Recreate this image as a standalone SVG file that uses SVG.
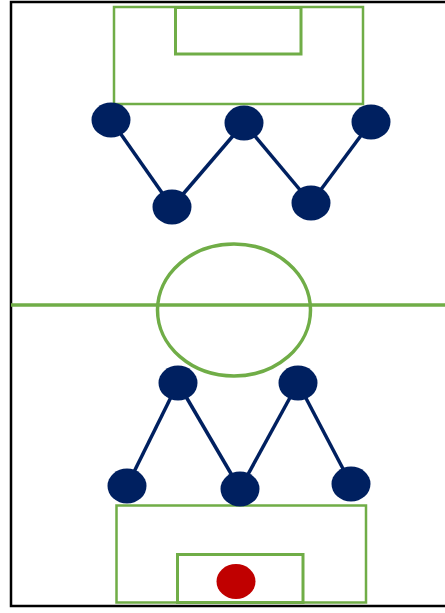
<svg xmlns="http://www.w3.org/2000/svg" width="445" height="613" viewBox="0 0 445 613">
<style>
.field{fill:#fff;stroke:#000;stroke-width:2.5}
.line{fill:none;stroke:#70AD47;stroke-width:2.5}
.goal{fill:none;stroke:#70AD47;stroke-width:3}
.mid{fill:none;stroke:#70AD47;stroke-width:3.5}
.player{fill:#002060}
.ball{fill:#C00000}
.link{stroke:#002060;stroke-width:3.5;fill:none}
</style>
<rect width="445" height="613" fill="#fff"/>
<rect class="field" x="11" y="2" width="440" height="604"/>
<g id="pitch">
<rect class="line" x="114" y="7" width="249" height="97"/>
<rect class="goal" x="175.5" y="7.5" width="125.5" height="46.5"/>
<line class="mid" x1="11" y1="305" x2="445" y2="305"/>
<ellipse class="mid" cx="234" cy="310" rx="76.5" ry="66"/>
<rect class="line" x="116.5" y="505.5" width="249.5" height="97"/>
<rect class="goal" x="177.5" y="554.5" width="125.5" height="48"/>
</g>
<g id="connectors">
<line class="link" x1="111" y1="120" x2="172" y2="207"/>
<line class="link" x1="172" y1="207" x2="244" y2="123"/>
<line class="link" x1="244" y1="123" x2="311" y2="203"/>
<line class="link" x1="311" y1="203" x2="371" y2="122"/>
<line class="link" x1="127" y1="486" x2="178" y2="383"/>
<line class="link" x1="178" y1="383" x2="240" y2="489"/>
<line class="link" x1="240" y1="489" x2="298" y2="383"/>
<line class="link" x1="298" y1="383" x2="351" y2="484"/>
</g>
<g id="p1"><ellipse class="player" cx="111" cy="120" rx="19.5" ry="17.5"/></g>
<g id="p2"><ellipse class="player" cx="244" cy="123" rx="19.5" ry="17.5"/></g>
<g id="p3"><ellipse class="player" cx="371" cy="122" rx="19.5" ry="17.5"/></g>
<g id="p4"><ellipse class="player" cx="172" cy="207" rx="19.5" ry="17.5"/></g>
<g id="p5"><ellipse class="player" cx="311" cy="203" rx="19.5" ry="17.5"/></g>
<g id="p6"><ellipse class="player" cx="178" cy="383" rx="19.5" ry="17.5"/></g>
<g id="p7"><ellipse class="player" cx="298" cy="383" rx="19.5" ry="17.5"/></g>
<g id="p8"><ellipse class="player" cx="127" cy="486" rx="19.5" ry="17.5"/></g>
<g id="p9"><ellipse class="player" cx="240" cy="489" rx="19.5" ry="17.5"/></g>
<g id="p10"><ellipse class="player" cx="351" cy="484" rx="19.5" ry="17.5"/></g>
<g id="ball"><ellipse class="ball" cx="236" cy="581.5" rx="19.5" ry="17.5"/></g>
</svg>
